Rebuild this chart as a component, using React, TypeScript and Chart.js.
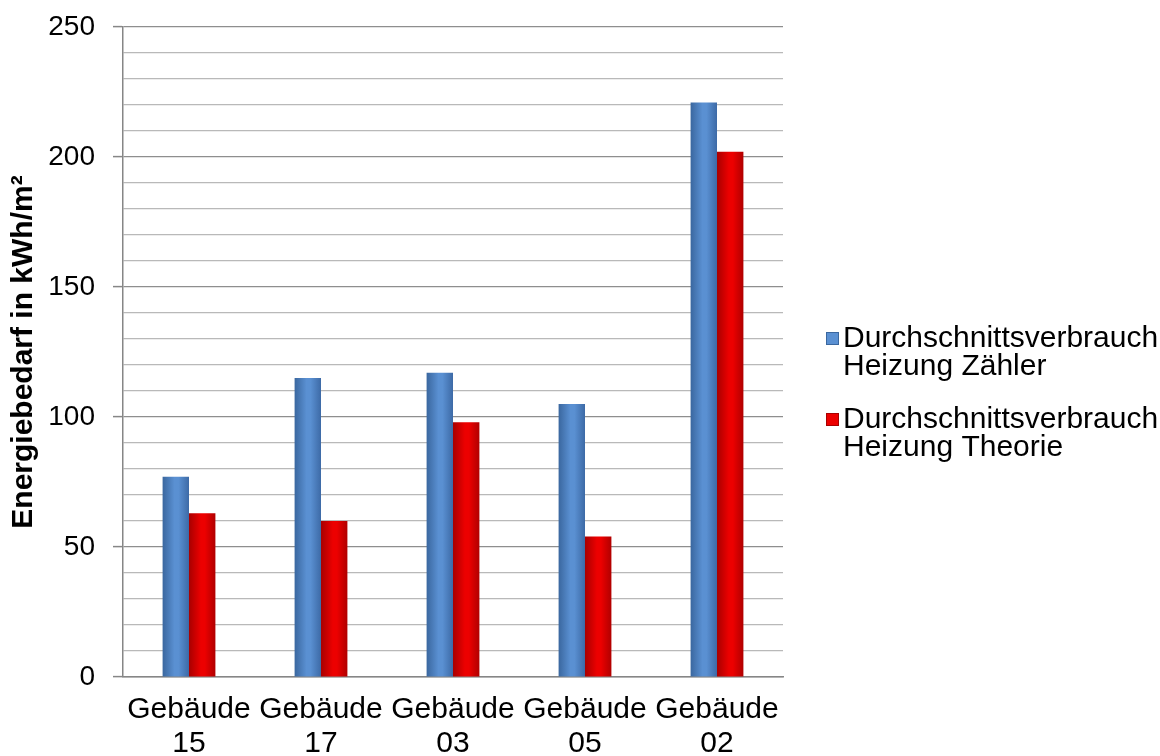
import React, { useEffect, useRef } from 'react';
import { Chart, registerables } from 'chart.js';

Chart.register(...registerables);

const categories: string[][] = [
  ['Gebäude', '15'],
  ['Gebäude', '17'],
  ['Gebäude', '03'],
  ['Gebäude', '05'],
  ['Gebäude', '02'],
];
const zaehlerValues: number[] = [77, 115, 117, 105, 221];
const theorieValues: number[] = [63, 60, 98, 54, 202];
const seriesNames: string[] = [
  'Durchschnittsverbrauch Heizung Zähler',
  'Durchschnittsverbrauch Heizung Theorie',
];
const legendLines: string[][] = [
  ['Durchschnittsverbrauch', 'Heizung Zähler'],
  ['Durchschnittsverbrauch', 'Heizung Theorie'],
];
const yTitle = 'Energiebedarf in kWh/m²';
const yMin = 0;
const yMax = 250;
const yMinorStep = 10;
const yMajorStep = 50;

const FONT = "'Liberation Sans', Arial, sans-serif";
const BLUE = ['#3a679f', '#5a90d2', '#3d6aa6'];
const RED = ['#a80000', '#ec0000', '#b00000'];
const CAT_PCT = 0.4;

function barFill(stops: string[]) {
  return (c: any) => {
    const chart = c.chart;
    const xs = chart.scales && chart.scales.x;
    if (!xs || !(xs.width > 0) || c.type !== 'data') return stops[1];
    const w = ((xs.width / categories.length) * CAT_PCT) / 2;
    const center = xs.getPixelForValue(c.dataIndex) + (c.datasetIndex === 0 ? -w / 2 : w / 2);
    const g = chart.ctx.createLinearGradient(center - w / 2, 0, center + w / 2, 0);
    g.addColorStop(0, stops[0]);
    g.addColorStop(0.45, stops[1]);
    g.addColorStop(0.6, stops[1]);
    g.addColorStop(1, stops[2]);
    return g;
  };
}

const sideLegend = {
  id: 'sideLegend',
  afterDraw(chart: any) {
    const ctx = chart.ctx as CanvasRenderingContext2D;
    const area = chart.chartArea;
    const markerX = area.right + 43;
    const textX = area.right + 60;
    const baselines = [347, 428];
    const lineGap = 28;
    const colors = [BLUE, RED];
    ctx.save();
    ctx.font = `30px ${FONT}`;
    ctx.fillStyle = '#000';
    ctx.textBaseline = 'alphabetic';
    ctx.textAlign = 'left';
    chart.data.datasets.forEach((ds: any, i: number) => {
      const b = baselines[i];
      const my = b - 15;
      ctx.fillStyle = colors[i][1];
      ctx.fillRect(markerX, my, 13, 13);
      ctx.strokeStyle = colors[i][0];
      ctx.lineWidth = 1;
      ctx.strokeRect(markerX + 0.5, my + 0.5, 12, 12);
      ctx.fillStyle = '#000';
      legendLines[i].forEach((t, j) => ctx.fillText(t, textX, b + j * lineGap));
    });
    ctx.restore();
  },
};

export default function App() {
  const ref = useRef<HTMLCanvasElement | null>(null);
  useEffect(() => {
    if (!ref.current) return;
    const chart = new Chart(ref.current, {
      type: 'bar',
      data: {
        labels: categories,
        datasets: [
          {
            label: seriesNames[0],
            data: zaehlerValues,
            backgroundColor: barFill(BLUE),
            categoryPercentage: CAT_PCT,
            barPercentage: 1,
          },
          {
            label: seriesNames[1],
            data: theorieValues,
            backgroundColor: barFill(RED),
            categoryPercentage: CAT_PCT,
            barPercentage: 1,
          },
        ],
      },
      options: {
        responsive: false,
        animation: false,
        layout: { padding: { left: 0, top: 27, right: 377, bottom: 0 } },
        plugins: {
          legend: { display: false },
          tooltip: { enabled: false },
        },
        scales: {
          x: {
            grid: { display: false, drawTicks: false },
            border: { display: true, color: '#868686', width: 1.5 },
            ticks: {
              color: '#000',
              font: { family: FONT, size: 30, lineHeight: 1.15 },
              padding: 15,
              maxRotation: 0,
              autoSkip: false,
            },
            afterFit: (s: any) => {
              s.height = 79;
              s.paddingTop = 0;
              s.paddingBottom = 0;
            },
          },
          y: {
            min: yMin,
            max: yMax,
            grid: {
              color: (c: any) => (c.tick && c.tick.value % yMajorStep === 0 ? '#8e8e8e' : '#b9b9b9'),
              lineWidth: 1.2,
              drawTicks: true,
              tickLength: 10,
              tickColor: (c: any) => (c.tick && c.tick.value % yMajorStep === 0 ? '#868686' : 'rgba(0,0,0,0)'),
              tickWidth: 1.5,
            },
            border: { display: true, color: '#868686', width: 1.5 },
            ticks: {
              stepSize: yMinorStep,
              autoSkip: false,
              color: '#000',
              padding: 18,
              font: { family: FONT, size: 28 },
              callback: (v: any) => (Number(v) % yMajorStep === 0 ? String(v) : ''),
            },
            title: {
              display: true,
              text: yTitle,
              color: '#000',
              font: { family: FONT, size: 30, weight: 'bold' },
              padding: { top: 6, bottom: 0 },
            },
            afterFit: (s: any) => {
              s.width = 123;
              s.paddingTop = 0;
              s.paddingBottom = 0;
            },
          },
        },
      },
      plugins: [sideLegend],
    });
    return () => chart.destroy();
  }, []);
  return (
    <div style={{ position: 'absolute', left: 0, top: 0, width: 1160, height: 756, background: '#fff' }}>
      <canvas ref={ref} width={1160} height={756} style={{ display: 'block' }} />
    </div>
  );
}
